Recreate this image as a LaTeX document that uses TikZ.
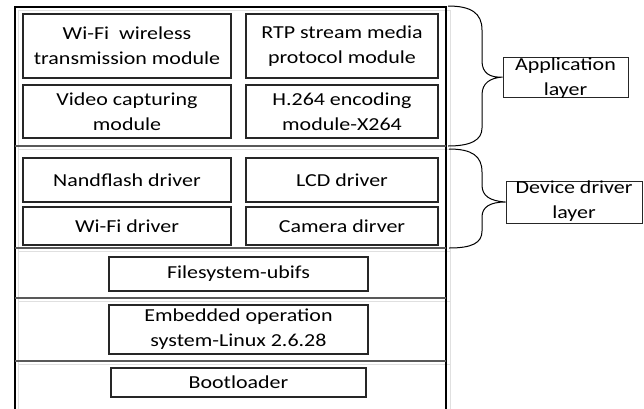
\documentclass[tikz,border=0pt]{standalone}
\usepackage{fontspec}
\setmainfont{Carlito}[FakeStretch=1.2]
\begin{document}
\begin{tikzpicture}[x=1pt,y=-1pt,
  every node/.style={font=\fontsize{18.3}{25}\selectfont, align=center},
  module/.style={draw=black!85, line width=1.1pt, inner sep=0pt},
  tag/.style={draw=black!85, line width=0.9pt, inner sep=0pt},
  frameline/.style={line width=1.2pt},
  divider/.style={draw=black!65, line width=1.4pt},
  ghost/.style={draw=black!12, line width=0.9pt},
  bracepath/.style={line width=1pt}]
\useasboundingbox (0,0) rectangle (644,408);
\begin{scope}
\clip (0,0) rectangle (644,408);
% light shadow grid of the stack
\draw[ghost] (18.5,410) -- (18.5,10.5) -- (450,10.5) -- (450,410);
\foreach \yy in {149,251,301,364} \draw[ghost] (18.5,\yy) -- (450,\yy);
% outer frame of the layer stack
\draw[frameline] (15,410) -- (15,7) -- (446,7) -- (446,410);
% separators between the layers
\foreach \yy in {146,248,298,361} \draw[divider] (15,\yy) -- (446,\yy);
\end{scope}

% application layer
\node[module, minimum width=208, minimum height=64] (wifi) at (127,46) {Wi-Fi\ \ wireless\\transmission module};
\node[module, minimum width=192, minimum height=64] (rtp) at (342,46) {RTP stream media\\protocol module};
\node[module, minimum width=208, minimum height=53] (video) at (127,111.5) {Video capturing\\module};
\node[module, minimum width=192, minimum height=53] (h264) at (342,111.5) {H.264 encoding\\module-X264};

% device driver layer
\node[module, minimum width=208, minimum height=44] (nand) at (127,180) {Nandflash driver};
\node[module, minimum width=192, minimum height=44] (lcd) at (342,180) {LCD driver};
\node[module, minimum width=208, minimum height=38] (wifidrv) at (127,226) {Wi-Fi driver};
\node[module, minimum width=192, minimum height=38] (camera) at (342,226) {Camera dirver};

% lower layers
\node[module, minimum width=259, minimum height=34] (fs) at (238.5,274) {Filesystem-ubifs};
\node[module, minimum width=259, minimum height=49] (linux) at (238.5,329.5) {Embedded operation\\system-Linux 2.6.28};
\node[module, minimum width=255, minimum height=29] (boot) at (238.5,382.5) {Bootloader};

% layer tags
\node[tag, minimum width=125, minimum height=40] (appbox) at (565.5,77) {};
\node (apptext) at (565.5,78) {Application\\layer};
\node[tag, minimum width=136, minimum height=42] (devbox) at (574,202) {};
\node (devtext) at (574,201) {Device driver\\layer};

% braces
\coordinate (a1) at (448,6);
\coordinate (a2) at (448,146);
\coordinate (d1) at (449,149);
\coordinate (d2) at (449,248);
\draw[bracepath] (a1) .. controls (471,6) and (482,13) .. (482,30) -- (482,61)
  .. controls (482,73) and (490,78) .. (appbox.west)
  .. controls (490,78) and (482,83) .. (482,95) -- (482,128)
  .. controls (482,140) and (471,146) .. (a2);
\draw[bracepath] (d1) .. controls (472,149) and (482,156) .. (482,172) -- (482,185)
  .. controls (482,196) and (490,201) .. (devbox.west)
  .. controls (490,202) and (482,207) .. (482,217) -- (482,231)
  .. controls (482,243) and (472,248) .. (d2);
\end{tikzpicture}
\end{document}
